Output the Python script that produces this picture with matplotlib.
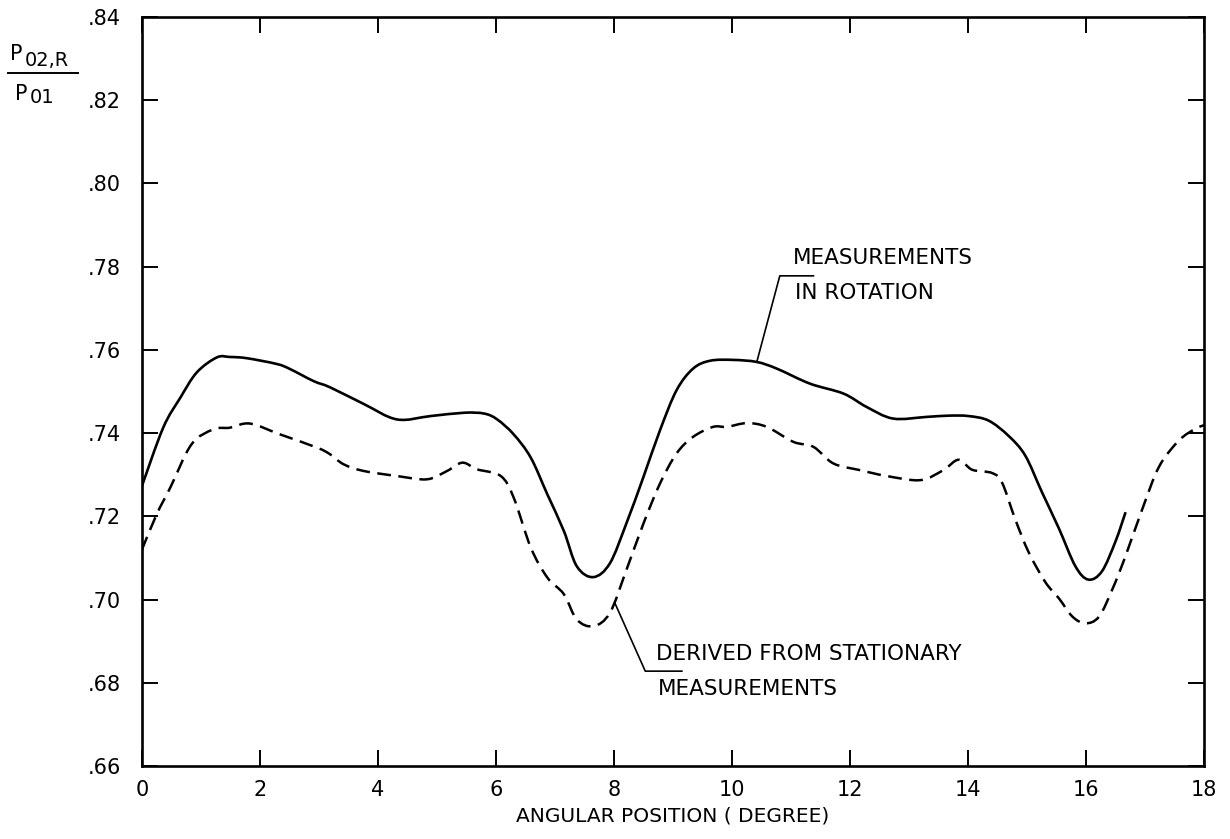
import matplotlib
matplotlib.use("Agg")
import matplotlib.pyplot as plt
import numpy as np
from matplotlib.patches import PathPatch
from matplotlib.path import Path
from matplotlib.ticker import FuncFormatter

# values
rot_x = [0.0, 0.36, 0.65, 0.93, 1.27, 1.49, 1.78, 2.29, 2.51, 2.91, 3.19, 3.76,
         4.32, 4.89, 5.46, 5.80, 6.02, 6.30, 6.59, 6.87, 7.15, 7.37, 7.65, 7.93,
         8.21, 8.50, 8.78, 9.06, 9.34, 9.63, 10.02, 10.42, 10.76, 11.32, 11.89,
         12.28, 12.73, 13.30, 13.67, 14.01, 14.35, 14.69, 14.97, 15.25, 15.54,
         15.82, 16.04, 16.27, 16.50, 16.67]
rot_y = [.7273, .7413, .7485, .7546, .7582, .7583, .7580, .7566, .7554, .7525,
         .7510, .7470, .7433, .7441, .7449, .7447, .7433, .7397, .7341, .7253,
         .7165, .7080, .7054, .7087, .7183, .7295, .7407, .7503, .7555, .7574,
         .7576, .7571, .7555, .7519, .7495, .7463, .7435, .7439, .7442, .7441,
         .7430, .7393, .7346, .7259, .7171, .7080, .7048, .7068, .7140, .7210]

stat_x = [0.0, 0.25, 0.48, 0.84, 1.21, 1.49, 1.83, 2.34, 2.97, 3.19, 3.42, 3.76,
          4.32, 4.83, 5.17, 5.43, 5.68, 6.08, 6.30, 6.59, 6.87, 7.15, 7.37, 7.65,
          7.93, 8.21, 8.50, 8.78, 9.06, 9.34, 9.68, 9.91, 10.25, 10.59, 11.04,
          11.38, 11.72, 12.17, 12.62, 13.19, 13.58, 13.84, 14.07, 14.41, 14.58,
          14.80, 15.03, 15.31, 15.54, 15.77, 15.99, 16.22, 16.45, 16.67, 16.95,
          17.24, 17.58, 17.86, 18.0]
stat_y = [.7120, .7205, .7269, .7373, .7409, .7413, .7423, .7397, .7365, .7349,
          .7325, .7309, .7297, .7289, .7309, .7329, .7313, .7297, .7245, .7125,
          .7053, .7013, .6952, .6936, .6968, .7071, .7183, .7279, .7351, .7391,
          .7415, .7415, .7424, .7415, .7379, .7367, .7327, .7311, .7297, .7287,
          .7311, .7336, .7312, .7304, .7280, .7193, .7113, .7042, .7003, .6959,
          .6943, .6959, .7026, .7105, .7216, .7320, .7383, .7411, .7419]

x_ticks = list(range(0, 19, 2))
y_ticks = [.66, .68, .70, .72, .74, .76, .78, .80, .82, .84]

rot_label = ["MEASUREMENTS", "IN ROTATION"]
stat_label = ["DERIVED FROM STATIONARY", "MEASUREMENTS"]


def smooth_path(xs, ys):
    """Bezier path through the read points (Catmull-Rom tangents)."""
    p = np.column_stack([xs, ys])
    n = len(p)
    verts = [p[0]]
    codes = [Path.MOVETO]
    for i in range(n - 1):
        p0 = p[max(i - 1, 0)]
        p1, p2 = p[i], p[i + 1]
        p3 = p[min(i + 2, n - 1)]
        c1 = p1 + (p2 - p0) / 6.0
        c2 = p2 - (p3 - p1) / 6.0
        verts += [c1, c2, p2]
        codes += [Path.CURVE4] * 3
    return Path(verts, codes)


plt.rcParams["font.family"] = ["DejaVu Sans"]

fig = plt.figure(figsize=(12.3, 8.39), dpi=100)
ax = fig.add_axes([0.1154, 0.0870, 0.8635, 0.8927])

ax.add_patch(PathPatch(smooth_path(rot_x, rot_y), fill=False, edgecolor="black",
                       lw=1.9, capstyle="butt"))
ax.add_patch(PathPatch(smooth_path(stat_x, stat_y), fill=False, edgecolor="black",
                       lw=1.8, linestyle=(0, (5.5, 3.0)), capstyle="butt"))

ax.set_xlim(0, 18)
ax.set_ylim(.66, .84)
ax.set_xticks(x_ticks)
ax.set_yticks(y_ticks)
ax.yaxis.set_major_formatter(FuncFormatter(lambda v, p: f"{v:.2f}".lstrip("0")))
ax.tick_params(direction="in", length=11.5, width=1.4, labelsize=15,
               top=True, right=True, pad=10)
ax.tick_params(axis="y", pad=15)
for s in ax.spines.values():
    s.set_linewidth(1.9)

ax.set_xlabel("ANGULAR POSITION ( DEGREE)", fontsize=14.5, labelpad=5)

# leader lines and notes
ax.plot([10.42, 10.81, 11.38], [.7571, .7778, .7778], color="black", lw=1.2)
ax.text(11.03, .782, rot_label[0], fontsize=15.5, va="center", ha="left")
ax.text(11.07, .7737, rot_label[1], fontsize=15.5, va="center", ha="left")

ax.plot([8.02, 8.53, 9.15], [.6990, .6828, .6828], color="black", lw=1.2)
ax.text(8.72, .6868, stat_label[0], fontsize=15.5, va="center", ha="left")
ax.text(8.75, .6784, stat_label[1], fontsize=15.5, va="center", ha="left")

# ordinate label as a fraction in the upper left corner
W, H = 1230, 839
fig.text(10 / W, 1 - 60 / H, "P", fontsize=15, va="baseline", ha="left")
fig.text(25 / W, 1 - 66 / H, "02,R", fontsize=14, va="baseline", ha="left")
fig.add_artist(plt.Line2D([8 / W, 78 / W], [1 - 73 / H, 1 - 73 / H],
                          color="black", lw=1.4))
fig.text(15 / W, 1 - 100 / H, "P", fontsize=15, va="baseline", ha="left")
fig.text(30 / W, 1 - 103 / H, "01", fontsize=14, va="baseline", ha="left")

fig.savefig("out.png", dpi=100)
